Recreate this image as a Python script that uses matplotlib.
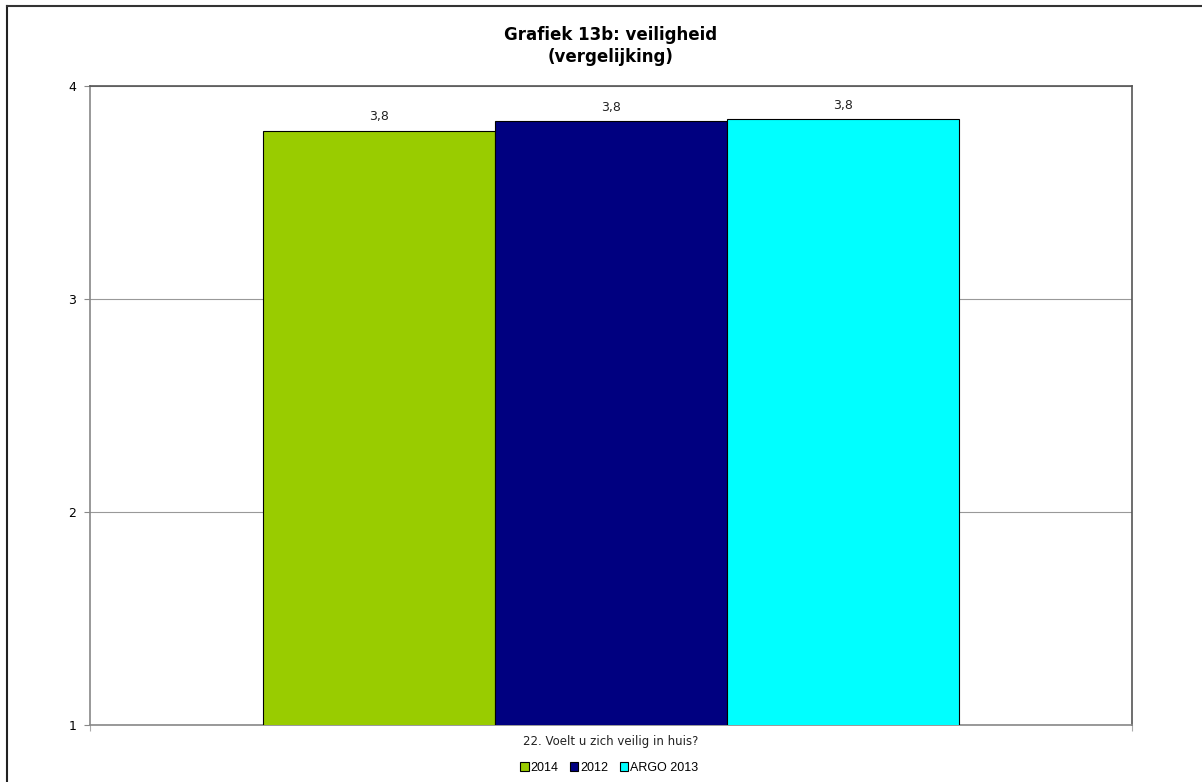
import matplotlib.pyplot as plt
from matplotlib.lines import Line2D
from matplotlib.patches import Patch

# Gemiddelde score per reeks
reeksen = ["2014", "2012", "ARGO 2013"]
waarden = [3.79, 3.835, 3.845]
kleuren = ["#99cc00", "#000080", "#00ffff"]
vraag = "22. Voelt u zich veilig in huis?"
titel = "Grafiek 13b: veiligheid\n(vergelijking)"

fig = plt.figure(figsize=(12.02, 7.82), dpi=100)
ax = fig.add_axes([90 / 1202, 57 / 782, 1042 / 1202, 639 / 782])

breedte = 0.2227
posities = [(i - 1) * breedte for i in range(len(waarden))]
balken = ax.bar(posities, waarden, width=breedte, bottom=0, color=kleuren,
                edgecolor="black", linewidth=0.8, zorder=3)
for x, w in zip(posities, waarden):
    ax.text(x, w + 0.035, f"{w:.1f}".replace(".", ","), ha="center", va="bottom",
            fontsize=9, family="DejaVu Sans", color="#222222")

ax.set_xlim(-0.5, 0.5)
ax.set_ylim(1, 4)
ax.set_yticks([1, 2, 3, 4])
ax.set_yticklabels(["1", "2", "3", "4"], fontsize=9, family="DejaVu Sans")
ax.yaxis.grid(True, color="#999999", linewidth=0.8, zorder=0)
ax.tick_params(axis="y", length=4, color="#888888", pad=6)
ax.set_xticks([-0.5, 0.5])
ax.set_xticklabels(["", ""])
ax.tick_params(axis="x", length=4, color="#aaaaaa", direction="out")

for kant in ["left", "bottom"]:
    ax.spines[kant].set_color("#888888")
    ax.spines[kant].set_linewidth(1.2)
for kant in ["top", "right"]:
    ax.spines[kant].set_color("#555555")
    ax.spines[kant].set_linewidth(1.2)

fig.text(611 / 1202, 1 - 46 / 782, titel, ha="center", va="center",
         fontsize=12, fontweight="bold", family="DejaVu Sans", linespacing=1.3)
fig.text(611 / 1202, 1 - 741 / 782, vraag, ha="center", va="center",
         fontsize=8.5, family="DejaVu Sans", color="#222222")

handles = [Patch(facecolor=k, edgecolor="black", linewidth=0.8) for k in kleuren]
fig.legend(handles, reeksen, loc="center", bbox_to_anchor=(609 / 1202, 1 - 768 / 782),
           ncol=3, frameon=False, prop={"family": "Liberation Sans", "size": 9},
           handlelength=0.7, handleheight=0.7, handletextpad=0.15, columnspacing=0.9)

# Kader rond de grafiek
fig.add_artist(Line2D([7 / 1202, 7 / 1202], [0, 1 - 6 / 782], color="#222222",
                      linewidth=1.5, transform=fig.transFigure))
fig.add_artist(Line2D([7 / 1202, 1], [1 - 6 / 782, 1 - 6 / 782], color="#333333",
                      linewidth=1.5, transform=fig.transFigure))

fig.savefig("out.png", dpi=100)
